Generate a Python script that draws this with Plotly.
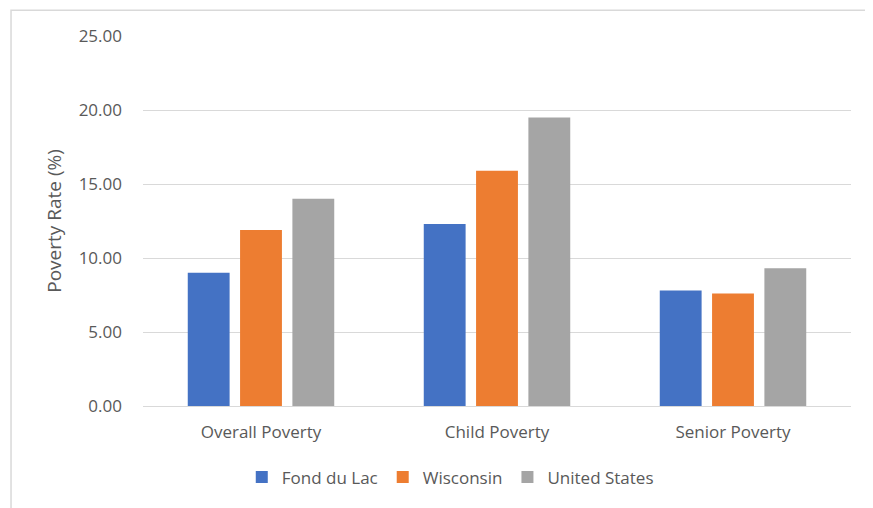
import plotly.graph_objects as go

categories = ["Overall Poverty", "Child Poverty", "Senior Poverty"]
fond_du_lac = [9.0, 12.3, 7.8]
wisconsin = [11.9, 15.9, 7.6]
united_states = [14.0, 19.5, 9.3]
y_ticks = [0, 5, 10, 15, 20, 25]

series = [
    ("Fond du Lac", fond_du_lac, "#4472C4"),
    ("Wisconsin", wisconsin, "#ED7D31"),
    ("United States", united_states, "#A5A5A5"),
]

font_family = "Open Sans, Noto Sans, sans-serif"
text_color = "#595959"

fig = go.Figure()
for name, vals, color in series:
    fig.add_trace(go.Bar(x=categories, y=vals, name=name, marker=dict(color=color, line=dict(width=0))))

fig.update_layout(
    width=865, height=500,
    margin=dict(l=135, r=22, t=27.7, b=102.3),
    paper_bgcolor="white", plot_bgcolor="white",
    barmode="group", bargap=0.335, bargroupgap=0.2,
    font=dict(family=font_family, size=17, color=text_color),
    showlegend=True,
    legend=dict(orientation="h", x=0.434, xanchor="center", y=-0.193, yanchor="middle",
                font=dict(size=17, color=text_color), itemwidth=30, traceorder="normal"),
    xaxis=dict(showgrid=False, showline=False, zeroline=False, ticks="",
               tickfont=dict(size=17, color=text_color), ticklabelstandoff=14),
    yaxis=dict(range=[0, 25], tickvals=y_ticks, tickformat=".2f", showgrid=True,
               gridcolor="#d9d9d9", gridwidth=1, zeroline=True, zerolinecolor="#d9d9d9",
               zerolinewidth=1, showline=False, ticks="",
               tickfont=dict(size=17, color=text_color), ticklabelstandoff=20,
               title=dict(text="Poverty Rate (%)", font=dict(size=19, color=text_color), standoff=11)),
    shapes=[dict(type="rect", xref="paper", yref="paper", x0=-0.1864, x1=1.2, y0=-0.4, y1=1.0695,
                 line=dict(color="#d9d9d9", width=1.5), fillcolor="rgba(0,0,0,0)", layer="below")],
)

fig.write_html("out.html")
